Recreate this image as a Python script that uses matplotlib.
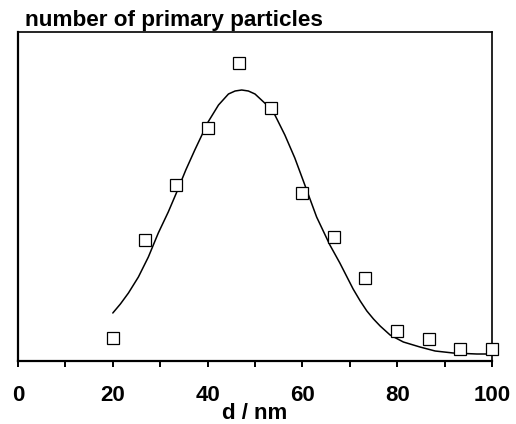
import matplotlib
matplotlib.use("Agg")
import matplotlib.pyplot as plt
from matplotlib.ticker import MultipleLocator

plt.rcParams['font.family'] = ['Liberation Sans', 'DejaVu Sans']
plt.rcParams['font.weight'] = 'bold'

# measured counts (arbitrary units) per diameter class
d_nm = [20, 26.7, 33.3, 40, 46.7, 53.3, 60, 66.7, 73.3, 80, 86.7, 93.3, 100]
counts = [23, 121, 176, 233, 298, 253, 168, 124, 83, 30, 22, 12, 12]

# fitted distribution
fit_d = [20, 21.6, 23.3, 25.4, 27.5, 29.6, 31.7, 33.5, 35.4, 37.3, 38.8, 40.1,
         42.3, 44.4, 45.8, 47.2, 48.6, 50.0, 52.5, 54.2, 56.3, 58.4, 60.2,
         63.0, 65.8, 67.9, 69.3, 70.7, 72.2, 73.6, 75.0, 76.4, 78.5, 81.3,
         84.8, 88, 91.8, 96.8, 100]
fit_n = [48, 57, 68, 84, 104, 128, 149, 169, 191, 211, 226, 239,
         256, 267, 270, 271, 270, 267, 256, 246, 226, 203, 180,
         144, 116, 98, 85, 72, 60, 50, 42, 35, 26, 19,
         14, 10, 8, 7, 7]

fig = plt.figure(figsize=(5.16, 4.24), dpi=100)
ax = fig.add_axes([18/516, 1 - 361/424, (492 - 18)/516, (361 - 32)/424])

ax.plot(fit_d, fit_n, color='black', lw=1.1, zorder=2,
        solid_joinstyle='round', solid_capstyle='round')
ax.plot(d_nm, counts, linestyle='none', marker='s', markersize=8.4,
        markerfacecolor='white', markeredgecolor='black', markeredgewidth=0.9,
        zorder=3, clip_on=False)

ax.set_xlim(0, 100)
ax.set_ylim(0, 329)
ax.xaxis.set_major_locator(MultipleLocator(20))
ax.xaxis.set_minor_locator(MultipleLocator(10))
ax.tick_params(axis='x', which='both', direction='out', length=4.5, width=1.4,
               labelsize=16, pad=13)
ax.set_yticks([])
for lbl in ax.get_xticklabels():
    lbl.set_fontweight('bold')

for side in ['top', 'right']:
    ax.spines[side].set_linewidth(1.2)
for side in ['bottom', 'left']:
    ax.spines[side].set_linewidth(1.6)

ax.set_xlabel("d / nm", fontsize=16, fontweight='bold')
ax.xaxis.set_label_coords(0.5, -0.128)

fig.text(25/516, 1 - 26/424, "number of primary particles", fontsize=16.2,
         fontweight='bold', ha='left', va='baseline')

plt.savefig("out.png", dpi=100)
plt.close(fig)
